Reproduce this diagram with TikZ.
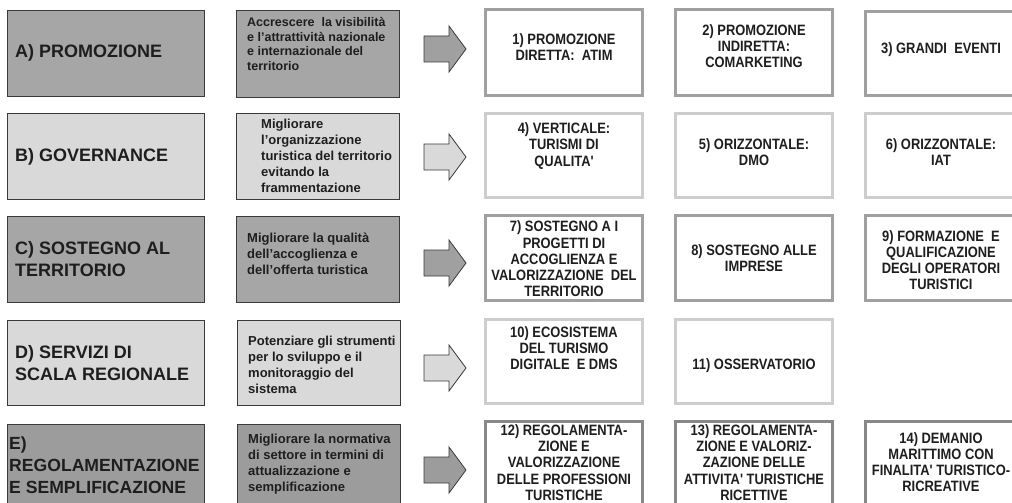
\documentclass[tikz,border=0pt]{standalone}
\usepackage{fontspec}
\setmainfont{Liberation Sans}
\newfontfamily\narrowfont{Liberation Sans}[FakeStretch=0.86]
\usetikzlibrary{shadows}
\definecolor{txt}{HTML}{1E1E1E}
\definecolor{midfill}{HTML}{A6A6A6}
\definecolor{lightfill}{HTML}{D9D9D9}
\definecolor{darkfill}{HTML}{9C9C9C}
\definecolor{midbord}{HTML}{A0A0A0}
\definecolor{lightbord}{HTML}{CDCDCD}
\definecolor{darkbord}{HTML}{888888}
\definecolor{edge}{HTML}{3A3A3A}
\tikzset{
  catbox/.style={draw=edge, line width=0.9pt, inner sep=0, minimum width=197pt},
  descbox/.style={draw=edge, line width=0.9pt, inner sep=0, minimum width=163pt},
  itembox/.style={draw=#1, fill=white, line width=3pt, inner sep=0, minimum width=157pt,
    drop shadow={shadow xshift=1.5pt, shadow yshift=-1.5pt, fill=black, opacity=0.10}},
  lab/.style={font=\bfseries\fontsize{18}{22}\selectfont, text=txt, align=left, anchor=west, inner sep=0},
  desc/.style={font=\bfseries\fontsize{13}{16}\selectfont, text=txt, align=left, anchor=west, inner sep=0},
  item/.style={font=\narrowfont\bfseries\fontsize{15}{16.2}\selectfont, text=txt, align=center, inner sep=0},
  arrowline/.style={draw=edge, line width=0.8pt, line join=miter}
}
\newcommand\blockarrow[3]{%
  \draw[arrowline, fill=#3] ({#1-21},{#2-13}) -- ({#1+4},{#2-13}) -- ({#1+4},{#2-23})
    -- ({#1+21},{#2}) -- ({#1+4},{#2+23}) -- ({#1+4},{#2+13}) -- ({#1-21},{#2+13}) -- cycle;}
\begin{document}
\begin{tikzpicture}[x=1pt,y=-1pt]
\useasboundingbox (0,0) rectangle (1012,503);
\clip (0,0) rectangle (1012,503);
\fill[white] (0,0) rectangle (1012,503);

% ---------- Row A
\node[catbox, fill=midfill, minimum height=86pt] (ca) at (106,53) {};
\node[lab] (la) at (15,53) {A) PROMOZIONE};
\node[descbox, fill=midfill, minimum height=87pt] (da) at (318,53.5) {};
\node[desc, font=\bfseries\fontsize{12.5}{14.5}\selectfont] (ta) at (247,44) {Accrescere\ \ la visibilità\\e l’attrattività nazionale\\e internazionale del\\territorio};
\blockarrow{445}{49}{midbord}
\node[itembox=midbord, minimum height=86pt] (b1) at (564,52.5) {};
\node[item] (t1) at (564,47) {1) PROMOZIONE\\DIRETTA:~ ATIM};
\node[itembox=midbord, minimum height=86pt] (b2) at (754,52.5) {};
\node[item] (t2) at (754,46) {2) PROMOZIONE\\INDIRETTA:\\COMARKETING};
\node[itembox=midbord, minimum height=84pt] (b3) at (944,53.5) {};
\node[item] (t3) at (941,50) {3) GRANDI~ EVENTI};

% ---------- Row B
\node[catbox, fill=lightfill, minimum height=86pt] (cb) at (106,156) {};
\node[lab] (lb) at (15,157) {B) GOVERNANCE};
\node[descbox, fill=lightfill, minimum height=86pt] (db) at (318,156) {};
\node[desc] (tb) at (261,156) {Migliorare\\l’organizzazione\\turistica del territorio\\evitando la\\frammentazione};
\blockarrow{445}{157}{lightfill}
\node[itembox=lightbord, minimum height=84pt] (b4) at (564,155.5) {};
\node[item] (t4) at (564,146) {4) VERTICALE:\\TURISMI DI\\QUALITA'};
\node[itembox=lightbord, minimum height=84pt] (b5) at (754,155.5) {};
\node[item] (t5) at (754,152) {5) ORIZZONTALE:\\DMO};
\node[itembox=lightbord, minimum height=84pt] (b6) at (944,155.5) {};
\node[item] (t6) at (941,152) {6) ORIZZONTALE:\\IAT};

% ---------- Row C
\node[catbox, fill=midfill, minimum height=86pt] (cc) at (106,259) {};
\node[lab] (lc) at (15,259) {C) SOSTEGNO AL\\TERRITORIO};
\node[descbox, fill=midfill, minimum height=86pt] (dc) at (318,259) {};
\node[desc] (tc) at (247,254) {Migliorare la qualità\\dell’accoglienza e\\dell’offerta turistica};
\blockarrow{445}{263}{midbord}
\node[itembox=midbord, minimum height=85pt] (b7) at (564,258) {};
\node[item] (t7) at (564,259) {7) SOSTEGNO A I\\PROGETTI DI\\ACCOGLIENZA E\\VALORIZZAZIONE~ DEL\\TERRITORIO};
\node[itembox=midbord, minimum height=85pt] (b8) at (754,258) {};
\node[item] (t8) at (754,258) {8) SOSTEGNO ALLE\\IMPRESE};
\node[itembox=midbord, minimum height=85pt] (b9) at (944,258) {};
\node[item] (t9) at (941,260) {9) FORMAZIONE~ E\\QUALIFICAZIONE\\DEGLI OPERATORI\\TURISTICI};

% ---------- Row D
\node[catbox, fill=lightfill, minimum height=85pt] (cd) at (106,362.5) {};
\node[lab] (ld) at (15,363) {D) SERVIZI DI\\SCALA REGIONALE};
\node[descbox, fill=lightfill, minimum height=85pt] (dd) at (319,362.5) {};
\node[desc] (td) at (248,365) {Potenziare gli strumenti\\per lo sviluppo e il\\monitoraggio del\\sistema};
\blockarrow{445}{368}{lightfill}
\node[itembox=lightbord, minimum height=84pt] (b10) at (564,361.5) {};
\node[item] (t10) at (564,348) {10) ECOSISTEMA\\DEL TURISMO\\DIGITALE~ E DMS};
\node[itembox=lightbord, minimum height=84pt] (b11) at (754,361.5) {};
\node[item] (t11) at (754,366) {11) OSSERVATORIO};

% ---------- Row E
\node[catbox, fill=darkfill, minimum height=86pt] (ce) at (106,467) {};
\node[lab, font=\bfseries\fontsize{17.6}{22}\selectfont] (le) at (9,465) {E)\\REGOLAMENTAZIONE\\E SEMPLIFICAZIONE};
\node[descbox, fill=darkfill, minimum height=86pt] (de) at (319,467) {};
\node[desc] (te) at (248,464) {Migliorare la normativa\\di settore in termini di\\attualizzazione e\\semplificazione};
\blockarrow{445}{470}{darkfill}
\node[itembox=darkbord, minimum height=87pt] (b12) at (564,465) {};
\node[item] (t12) at (564,462.5) {12) REGOLAMENTA-\\ZIONE E\\VALORIZZAZIONE\\DELLE PROFESSIONI\\TURISTICHE};
\node[itembox=darkbord, minimum height=87pt] (b13) at (754,465) {};
\node[item] (t13) at (754,462.5) {13) REGOLAMENTA-\\ZIONE E VALORIZ-\\ZAZIONE DELLE\\ATTIVITA' TURISTICHE\\RICETTIVE};
\node[itembox=darkbord, minimum height=87pt] (b14) at (944,465) {};
\node[item] (t14) at (941,462) {14) DEMANIO\\MARITTIMO CON\\FINALITA' TURISTICO-\\RICREATIVE};
\end{tikzpicture}
\end{document}
